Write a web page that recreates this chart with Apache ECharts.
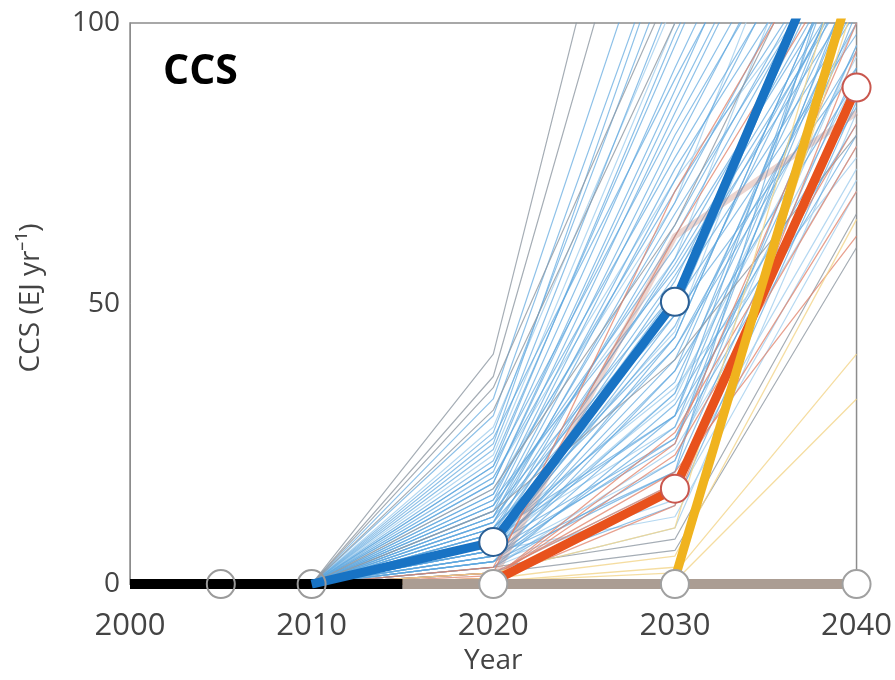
<!DOCTYPE html>
<html>
<head>
<meta charset="utf-8">
<title>CCS</title>
<script src="https://cdn.jsdelivr.net/npm/echarts@6/dist/echarts.min.js"></script>
<style>
  html, body { margin: 0; padding: 0; background: #fff; }
  #chart { width: 895px; height: 680px; }
</style>
</head>
<body>
<div id="chart"></div>
<script>
// decades where the scenario runs are read
var years = [2020, 2030, 2040];
var fanStart = [2010, 0];

// thin scenario runs: values at 2020, 2030, 2040 (EJ/yr)
var blueRuns = [
    [33, 130, 220], [30, 120, 210], [27, 112, 200], [24, 106, 190],
    [22, 96, 170], [20, 92, 160], [26, 90, 150], [18, 86, 150],
    [21, 82, 140], [15, 80, 135], [19, 76, 130], [13, 74, 125],
    [16, 70, 120], [12, 66, 118], [11, 62, 120], [14, 60, 112],
    [10, 57, 110], [9, 55, 105], [8, 52, 110], [7, 46, 112],
    [10, 44, 118], [6, 40, 108], [8, 36, 104], [5, 34, 115],
    [9, 30, 120], [4, 28, 106], [6, 25, 110], [3, 22, 102],
    [5, 20, 125], [12, 50, 98], [7, 42, 95], [11, 48, 92],
    [6, 38, 90], [4, 32, 85], [8, 30, 82], [5, 26, 80],
    [25, 118, 200], [21, 98, 165], [18, 88, 160], [16, 84, 150],
    [14, 78, 140], [12, 72, 135], [11, 68, 128], [9, 64, 122],
    [8, 58, 115], [7, 54, 120], [6, 48, 125], [5, 44, 118],
    [4, 38, 112], [3, 30, 108], [7, 26, 96], [4, 20, 92],
    [2, 14, 86], [10, 42, 100], [13, 52, 102], [15, 56, 108]
];
var paleBlueRuns = [
    [3, 24, 78], [9, 35, 76], [2, 18, 74], [4, 15, 72],
    [6, 12, 70], [14, 58, 140], [17, 68, 150], [23, 100, 180],
    [10, 45, 130], [7, 33, 100], [3, 16, 88], [5, 22, 96],
    [8, 28, 90], [2, 10, 84], [28, 104, 170], [19, 72, 115],
    [6, 34, 94]
];
var grayRuns = [
    [41, 170, 260], [37, 150, 240], [35, 108, 180], [17, 64, 130],
    [3, 8, 66], [2, 6, 60], [13, 40, 80], [31, 100, 160]
];
var redRuns = [
    [3, 62, 115], [2, 70, 125], [1, 27, 82], [1, 23, 78],
    [1.5, 20, 62], [0.5, 14, 95], [1, 25, 100], [2, 18, 70]
];
var yellowRuns = [
    [0.5, 2, 41], [0, 0.5, 33], [1, 5, 65], [0.5, 3, 105], [2, 10, 120]
];

// highlighted pathways
var historic = [[2000, 0], [2015, 0]];
var noCcs = [[2015, 0], [2040, 0]];
var bluePath = [[2010, 0], [2020, 7.5], [2030, 50.3], [2040, 126]];
var orangePath = [[2020, 0.5], [2030, 17], [2040, 88.5]];
var yellowPath = [[2030, 1], [2040, 110]];
var brownPath = [[2020, 1], [2030, 62], [2040, 84]];

// circles
var hollowMarks = [[2005, 0], [2010, 0]];
var zeroMarks = [[2020, 0], [2030, 0], [2040, 0]];
var blueMarks = [[2020, 7.5], [2030, 50.3]];
var orangeMarks = [[2030, 17], [2040, 88.5]];

var xTicks = [2000, 2010, 2020, 2030, 2040];
var yTicks = [0, 50, 100];

function runSeries(runs, color, opacity, width) {
    return runs.map(function (r) {
        return {
            type: 'line',
            data: [fanStart].concat(years.map(function (y, i) { return [y, r[i]]; })),
            symbol: 'none',
            silent: true,
            z: 1,
            lineStyle: { color: color, width: width, opacity: opacity }
        };
    });
}

function thick(data, color, width, z) {
    return {
        type: 'line', data: data, symbol: 'none', silent: true, z: z,
        lineStyle: { color: color, width: width, cap: 'butt' }
    };
}

function marks(data, fill, border) {
    return {
        type: 'scatter', data: data, symbol: 'circle', symbolSize: 28, z: 10,
        itemStyle: { color: fill, borderColor: border, borderWidth: 2, opacity: 1 }
    };
}

var chart = echarts.init(document.getElementById('chart'));

var series = []
    .concat(runSeries(paleBlueRuns, '#a8d1ef', 0.85, 1.2))
    .concat(runSeries(blueRuns, '#5ea7de', 0.7, 1.2))
    .concat(runSeries(grayRuns, '#8e98a3', 0.8, 1.2))
    .concat(runSeries(redRuns, '#e0826a', 0.75, 1.3))
    .concat(runSeries(yellowRuns, '#f2d48a', 0.8, 1.3));

series.push(thick(brownPath, 'rgba(200,135,120,0.35)', 6, 3));
series.push(thick(noCcs, '#ab9d93', 10, 4));
series.push(thick(historic, '#000000', 10, 5));
series.push(thick(bluePath, '#1873c4', 9, 6));
series.push(thick(orangePath, '#e8521c', 9, 6));
series.push(thick(yellowPath, '#f0b31e', 9, 6));
series.push(marks(hollowMarks, 'rgba(255,255,255,0)', '#9a9a9a'));
series.push(marks(zeroMarks, '#ffffff', '#a0a0a0'));
series.push(marks(blueMarks, '#ffffff', '#2a5f95'));
series.push(marks(orangeMarks, '#ffffff', '#c9574e'));

var option = {
    animation: false,
    grid: {
        left: 130, right: 38, top: 23, bottom: 95,
        show: true, borderColor: '#8c8c8c', borderWidth: 1.5
    },
    xAxis: {
        type: 'value', min: xTicks[0], max: xTicks[xTicks.length - 1], interval: 10,
        axisLine: { show: true, lineStyle: { color: '#8c8c8c' } },
        axisTick: { show: false },
        splitLine: { show: false },
        axisLabel: {
            color: '#444', fontSize: 31, fontFamily: 'Open Sans', margin: 27,
            formatter: function (v) { return String(v); }
        },
        name: 'Year', nameLocation: 'middle', nameGap: 62,
        nameTextStyle: { color: '#444', fontSize: 28, fontFamily: 'Open Sans' }
    },
    yAxis: {
        type: 'value', min: yTicks[0], max: yTicks[yTicks.length - 1], interval: 50,
        axisLine: { show: true, lineStyle: { color: '#8c8c8c' } },
        axisTick: { show: false },
        splitLine: { show: false },
        axisLabel: { color: '#444', fontSize: 28, fontFamily: 'Open Sans', margin: 10 }
    },
    graphic: [
        {
            type: 'text', x: 31, y: 298, rotation: Math.PI / 2, z: 20,
            style: {
                text: 'CCS (EJ yr⁻¹)', fill: '#444', fontSize: 28, fontFamily: 'Open Sans',
                textAlign: 'center', textVerticalAlign: 'middle'
            }
        },
        {
            type: 'text', x: 163, y: 72, z: 20,
            style: {
                text: 'CCS', fill: '#000', fontSize: 41, fontWeight: 'bold', fontFamily: 'Open Sans',
                textAlign: 'left', textVerticalAlign: 'middle'
            }
        }
    ],
    series: series
};
chart.setOption(option);
window.onresize = chart.resize;
</script>
</body>
</html>
